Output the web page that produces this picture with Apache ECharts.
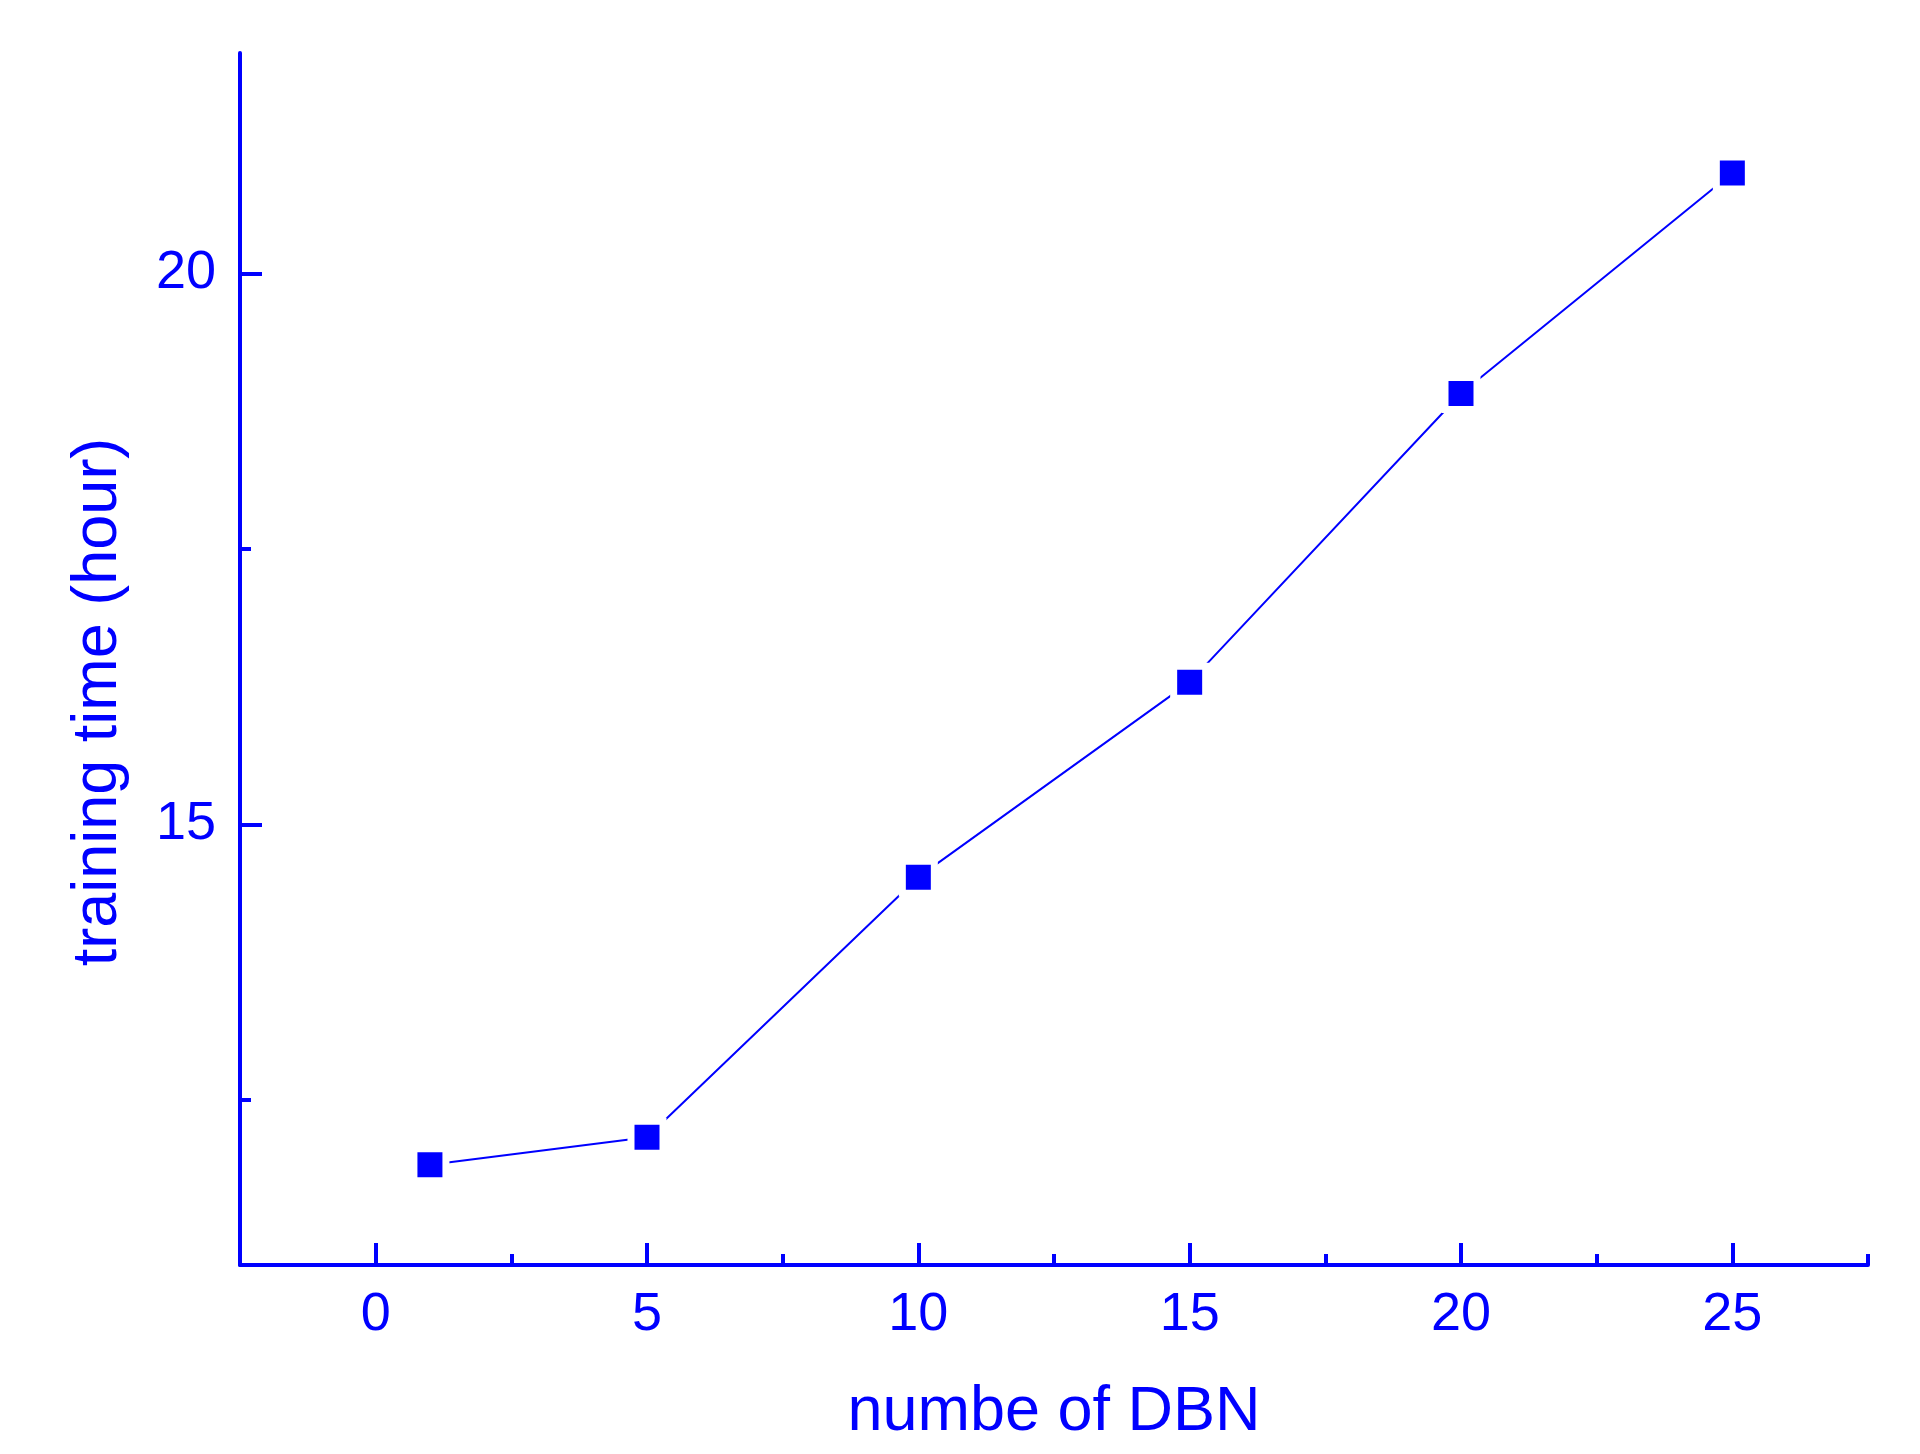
<!DOCTYPE html>
<html>
<head>
<meta charset="utf-8">
<script src="https://cdn.jsdelivr.net/npm/echarts@6/dist/echarts.min.js"></script>
<style>
  html, body { margin: 0; padding: 0; background: #fff; }
  #chart { width: 1920px; height: 1454px; }
</style>
</head>
<body>
<div id="chart"></div>
<script>
// data
const dbnCounts = [1, 5, 10, 15, 20, 25];
const trainingHours = [11.91, 12.16, 14.52, 16.29, 18.91, 20.91];

// ticks
const xMajorTicks = [0, 5, 10, 15, 20, 25];
const xMinorTicks = [2.5, 7.5, 12.5, 17.5, 22.5, 27.5];
const yMajorTicks = [15, 20];
const yMinorTicks = [12.5, 17.5];

const blue = '#0000ff';
const font = 'Liberation Sans, Arial, sans-serif';

const chart = echarts.init(document.getElementById('chart'));

const axisBase = {
  type: 'value',
  splitLine: { show: false },
  axisLine: { show: true, onZero: false, lineStyle: { color: blue, width: 4 } }
};

chart.setOption({
  animation: false,
  grid: { left: 240, right: 52, top: 53, bottom: 189, containLabel: false },
  xAxis: [
    {
      ...axisBase,
      position: 'bottom',
      min: -2.5, max: 27.5,
      name: 'numbe of DBN',
      nameLocation: 'middle',
      nameGap: 116,
      nameTextStyle: { color: blue, fontSize: 63, fontFamily: font },
      axisTick: { inside: true, length: 22, lineStyle: { color: blue, width: 4 }, customValues: xMajorTicks },
      axisLabel: { color: blue, fontSize: 54, fontFamily: font, margin: 23, customValues: xMajorTicks }
    },
    {
      // minor ticks only
      ...axisBase,
      position: 'bottom',
      offset: 0,
      min: -2.5, max: 27.5,
      axisLine: { show: false, onZero: false },
      axisTick: { inside: true, length: 11, lineStyle: { color: blue, width: 4 }, customValues: xMinorTicks },
      axisLabel: { show: false }
    }
  ],
  yAxis: [
    {
      ...axisBase,
      position: 'left',
      min: 11, max: 22,
      name: 'training time (hour)',
      nameLocation: 'middle',
      nameRotate: 90,
      nameGap: 110,
      nameTextStyle: { color: blue, fontSize: 63, fontFamily: font, padding: [0, 86, 0, 0] },
      axisTick: { inside: true, length: 22, lineStyle: { color: blue, width: 4 }, customValues: yMajorTicks },
      axisLabel: { color: blue, fontSize: 54, fontFamily: font, margin: 24, customValues: yMajorTicks }
    },
    {
      // minor ticks only
      ...axisBase,
      position: 'left',
      offset: 0,
      min: 11, max: 22,
      axisLine: { show: false, onZero: false },
      axisTick: { inside: true, length: 11, lineStyle: { color: blue, width: 4 }, customValues: yMinorTicks },
      axisLabel: { show: false }
    }
  ],
  series: [{
    type: 'line',
    xAxisIndex: 0,
    yAxisIndex: 0,
    data: dbnCounts.map((x, i) => [x, trainingHours[i]]),
    symbol: 'rect',
    symbolSize: 32,
    lineStyle: { color: blue, width: 2 },
    itemStyle: { color: blue, borderColor: '#fff', borderWidth: 7 }
  }]
});
</script>
</body>
</html>
